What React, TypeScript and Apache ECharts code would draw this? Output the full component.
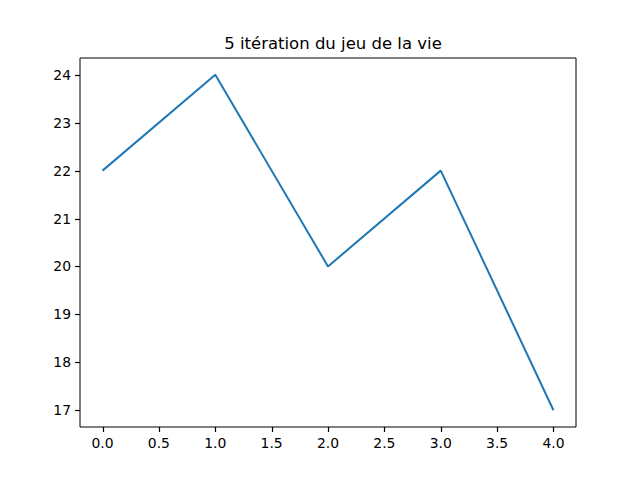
import React, { useEffect, useRef } from "react";
import * as echarts from "echarts";

const titleText = "5 itération du jeu de la vie";
const xValues = [0, 1, 2, 3, 4];
const yValues = [22, 24, 20, 22, 17];
const xTicks = [0, 0.5, 1, 1.5, 2, 2.5, 3, 3.5, 4];
const yTicks = [17, 18, 19, 20, 21, 22, 23, 24];

const X_MIN = -0.2;
const X_MAX = 4.2;
const Y_MIN = 16.65;
const Y_MAX = 24.35;
const TICK_LEN = 5;

export default function App() {
  const ref = useRef<HTMLDivElement>(null);
  useEffect(() => {
    const chart = echarts.init(ref.current!, null, { renderer: "svg" });
    const font = "DejaVu Sans";
    chart.setOption({
      animation: false,
      title: {
        text: titleText,
        left: 328,
        top: 30,
        textAlign: "center",
        textStyle: { fontFamily: font, fontSize: 16.5, fontWeight: "normal", color: "#000" },
      },
      grid: {
        left: 80,
        right: 64,
        top: 58,
        bottom: 53,
        show: true,
        borderColor: "#000",
        borderWidth: 1,
        backgroundColor: "transparent",
      },
      xAxis: {
        type: "value",
        position: "bottom",
        min: X_MIN,
        max: X_MAX,
        axisLine: { show: false, onZero: false },
        splitLine: { show: false },
        axisTick: { show: false },
        axisLabel: {
          color: "#000",
          fontFamily: font,
          fontSize: 13.9,
          margin: 9,
          customValues: xTicks,
          formatter: (v: number) => v.toFixed(1),
        },
      },
      yAxis: {
        type: "value",
        position: "left",
        min: Y_MIN,
        max: Y_MAX,
        axisLine: { show: false, onZero: false },
        splitLine: { show: false },
        axisTick: { show: false },
        axisLabel: {
          color: "#000",
          fontFamily: font,
          fontSize: 13.9,
          margin: 9,
          customValues: yTicks,
          formatter: (v: number) => String(v),
        },
      },
      series: [
        {
          type: "line",
          data: xValues.map((x, i) => [x, yValues[i]]),
          showSymbol: false,
          lineStyle: { color: "#1f77b4", width: 2 },
        },
      ],
    });

    const ticks: any[] = [];
    xTicks.forEach((v) => {
      const p = chart.convertToPixel({ gridIndex: 0 }, [v, Y_MIN]) as number[];
      const x = Math.round(p[0]) + 0.5;
      const y = Math.round(p[1]);
      ticks.push({
        type: "line",
        silent: true,
        z: 100,
        shape: { x1: x, y1: y, x2: x, y2: y + TICK_LEN },
        style: { stroke: "#000", lineWidth: 1.2 },
      });
    });
    yTicks.forEach((v) => {
      const p = chart.convertToPixel({ gridIndex: 0 }, [X_MIN, v]) as number[];
      const x = Math.round(p[0]);
      const y = Math.round(p[1]) + 0.5;
      ticks.push({
        type: "line",
        silent: true,
        z: 100,
        shape: { x1: x - TICK_LEN, y1: y, x2: x, y2: y },
        style: { stroke: "#000", lineWidth: 1.2 },
      });
    });
    chart.setOption({ graphic: { elements: ticks } });

    return () => chart.dispose();
  }, []);
  return (
    <div
      ref={ref}
      style={{ position: "fixed", left: 0, top: 0, width: 640, height: 480, background: "#fff" }}
    />
  );
}
